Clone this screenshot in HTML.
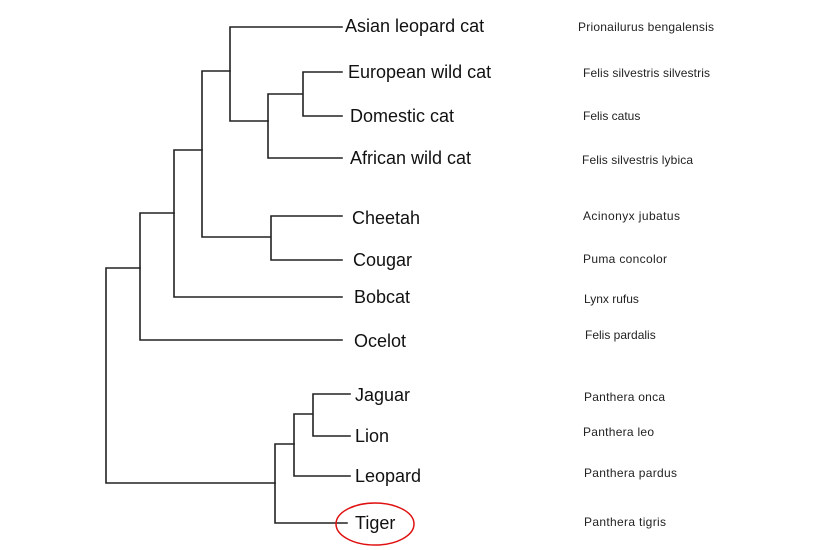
<!DOCTYPE html>
<html><head><style>html,body{margin:0;padding:0;background:#fff}svg{display:block}</style></head><body>
<svg width="817" height="550" viewBox="0 0 817 550" xmlns="http://www.w3.org/2000/svg">
<g stroke="#222" stroke-width="1.6" fill="none" stroke-linecap="square">
<path d="M230 27H342 M230 27V121 M230 121H268"/>
<path d="M303 72H342 M303 72V116 M303 116H342 M268 94H303 M268 94V158 M268 158H342"/>
<path d="M202 71H230 M202 71V237 M202 237H271 M271 216V260 M271 216H342 M271 260H342"/>
<path d="M174 150H202 M174 150V297 M174 297H342"/>
<path d="M140 213H174 M140 213V340 M140 340H342"/>
<path d="M106 268H140 M106 268V483 M106 483H275"/>
<path d="M313 394H350 M313 394V436 M313 436H350 M294 414H313 M294 414V476 M294 476H350"/>
<path d="M275 444H294 M275 444V523 M275 523H347"/>
</g>
<g font-family="Liberation Sans, sans-serif" font-size="18" fill="#111">
<text x="345" y="32">Asian leopard cat</text>
<text x="348" y="78">European wild cat</text>
<text x="350" y="122">Domestic cat</text>
<text x="350" y="164">African wild cat</text>
<text x="352" y="224">Cheetah</text>
<text x="353" y="266">Cougar</text>
<text x="354" y="303">Bobcat</text>
<text x="354" y="347">Ocelot</text>
<text x="355" y="401">Jaguar</text>
<text x="355" y="442">Lion</text>
<text x="355" y="482">Leopard</text>
<text x="355" y="529">Tiger</text>
</g>
<ellipse cx="375" cy="524" rx="39" ry="21" fill="none" stroke="#e01010" stroke-width="1.5"/>
<g font-family="Liberation Sans, sans-serif" font-size="12" fill="#222">
<text x="578" y="31" textLength="136">Prionailurus bengalensis</text>
<text x="583" y="77" textLength="127">Felis silvestris silvestris</text>
<text x="583" y="120">Felis catus</text>
<text x="582" y="164" textLength="111">Felis silvestris lybica</text>
<text x="583" y="220" textLength="97">Acinonyx jubatus</text>
<text x="583" y="263" textLength="84">Puma concolor</text>
<text x="584" y="303">Lynx rufus</text>
<text x="585" y="339">Felis pardalis</text>
<text x="584" y="401" textLength="81">Panthera onca</text>
<text x="583" y="436" textLength="71">Panthera leo</text>
<text x="584" y="477" textLength="93">Panthera pardus</text>
<text x="584" y="526" textLength="82">Panthera tigris</text>
</g>
</svg>
</body></html>
